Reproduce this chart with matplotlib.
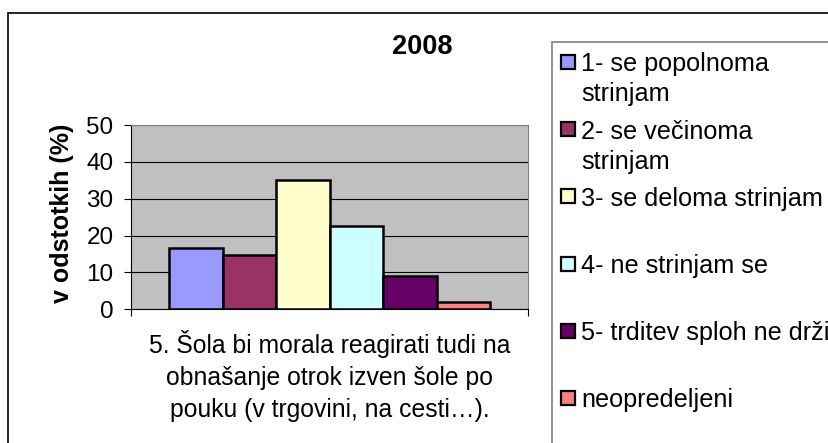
import matplotlib.pyplot as plt
from matplotlib.patches import Rectangle
import numpy as np

plt.rcParams['font.family'] = ['Liberation Sans', 'DejaVu Sans']

# Data
title = '2008'
category = '5. Šola bi morala reagirati tudi na\nobnašanje otrok izven šole po\npouku (v trgovini, na cesti…).'
series = ['1- se popolnoma\nstrinjam', '2- se večinoma\nstrinjam', '3- se deloma strinjam',
          '4- ne strinjam se', '5- trditev sploh ne drži', 'neopredeljeni']
values = [16.5, 14.7, 35, 22.7, 9, 1.9]
colors = ['#9999FF', '#993366', '#FFFFCC', '#CCFFFF', '#660066', '#FF8080']
ylabel = 'v odstotkih (%)'
yticks = [0, 10, 20, 30, 40, 50]

W, H = 829, 443
fig = plt.figure(figsize=(W / 100, H / 100), dpi=100)


def fx(px):
    return px / W


def fy(py):
    return 1 - py / H


# outer frame and legend box
fig.patches.append(Rectangle((fx(8), fy(445)), fx(830) - fx(8), fy(13) - fy(445),
                             transform=fig.transFigure, fill=False, ec='black', lw=1.2))
fig.patches.append(Rectangle((fx(552), fy(445)), fx(840) - fx(552), fy(42) - fy(445),
                             transform=fig.transFigure, fill=False, ec='#808080', lw=1.2))

# plot area
left, right, top, bottom = 131.5, 528, 125, 309.3
ax = fig.add_axes([fx(left), fy(bottom), fx(right) - fx(left), fy(top) - fy(bottom)])
ax.set_facecolor('#C0C0C0')

n = len(values)
bw = 0.81 / n
x = 0.5 - 0.81 / 2 + bw * (np.arange(n) + 0.5)
ax.bar(x, values, bw, color=colors, edgecolor='black', linewidth=1.8, zorder=3)

ax.set_xlim(0, 1)
ax.set_ylim(0, 50)
ax.set_yticks(yticks)
ax.yaxis.grid(True, color='black', linewidth=0.8, zorder=1)
ax.tick_params(axis='y', direction='out', length=5, width=0.8, pad=8, labelsize=17.5)

ax.set_xticks([0.5], [category])
ax.set_xticks([0, 1], minor=True)
ax.tick_params(axis='x', which='major', length=0, pad=15, labelsize=17.8)
ax.tick_params(axis='x', which='minor', direction='out', length=5, width=0.8)
for t in ax.get_xticklabels():
    t.set_linespacing(1.43)

for s in ('top', 'right'):
    ax.spines[s].set_color('#808080')
for s in ('left', 'bottom'):
    ax.spines[s].set_color('black')

fig.text(fx(62), fy(213), ylabel, rotation=90, ha='center', va='center',
         fontsize=18, fontweight='bold')
fig.text(fx(422), fy(47), title, ha='center', va='center', fontsize=19.5, fontweight='bold')

# legend
for i, (lab, col) in enumerate(zip(series, colors)):
    y0 = 62 + i * 67.2
    fig.patches.append(Rectangle((fx(561), fy(y0 + 7)), fx(14), fy(0) - fy(14),
                                 transform=fig.transFigure, fc=col, ec='black', lw=1.6))
    for j, line in enumerate(lab.split('\n')):
        fig.text(fx(581), fy(y0 + j * 30), line, ha='left', va='center_baseline', fontsize=18.2)

fig.savefig('out.png', dpi=100)
